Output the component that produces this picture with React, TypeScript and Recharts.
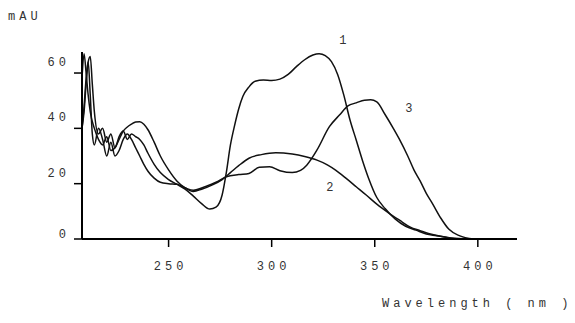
import React from 'react';
import { LineChart, Line, XAxis, YAxis, ReferenceDot } from 'recharts';

// Curve 1 (peak ~322 nm)
const wl1 = [208, 209, 210, 211, 212, 213, 214, 216, 218, 220, 222, 224, 226, 228, 230, 232, 234, 236, 238, 240, 243, 246, 250, 254, 258, 262, 266, 270, 273, 276, 278, 280, 282, 284, 286, 289, 292, 296, 300, 304, 308, 312, 316, 320, 323, 326, 329, 332, 335, 338, 341, 344, 347, 351, 355, 360, 365, 370, 375, 380, 386, 392, 400];
const abs1 = [40, 46, 56, 64, 66, 56, 46, 38, 40, 35, 38, 33, 37, 39, 36, 38, 37, 36, 34, 31, 27, 24, 21.5, 19.8, 18, 15.5, 12.8, 10.8, 11.5, 16, 24, 34, 41, 47, 51.5, 55, 57, 57.5, 57.3, 57.8, 59.5, 62.3, 64.8, 66.5, 67, 66.3, 64.1, 59.5, 52, 43, 35.8, 28.5, 22, 15, 11, 7.2, 4.6, 3.2, 1.8, 1.2, 0.4, 0.1, 0];

// Curve 2 (broad hump ~305 nm)
const wl2 = [208, 209, 210, 211, 212, 214, 216, 218, 220, 222, 224, 226, 228, 230, 232, 234, 236, 238, 240, 243, 246, 250, 254, 258, 262, 266, 271, 276, 280, 284, 289, 295, 302, 310, 316, 322, 327, 331, 336, 341, 346, 351, 357, 362, 367, 372, 377, 382, 387, 393, 400];
const abs2 = [58, 67, 60, 52, 46, 40, 36, 34, 37, 32, 33, 36, 39, 40.5, 41.5, 42.3, 42.4, 41.5, 39.5, 35, 30, 25, 21, 18.5, 17.2, 18, 19.5, 21.5, 24, 26.5, 29.2, 30.5, 31.2, 30.7, 29.8, 28.5, 26.8, 24.9, 22, 18.9, 15.8, 12.6, 9.3, 6.8, 4.4, 3, 1.8, 1, 0.4, 0.1, 0];

// Curve 3 (peak ~348 nm)
const wl3 = [208, 209, 210, 211, 212, 213, 214, 216, 218, 220, 222, 224, 226, 228, 230, 232, 234, 236, 238, 240, 243, 246, 250, 254, 258, 262, 268, 273, 278, 284, 289, 294, 299, 304, 310, 314, 317, 322, 328, 333, 337, 341, 345, 348, 351, 355, 359, 362, 366, 369, 372, 375, 378, 382, 386, 391, 398];
const abs3 = [40, 48, 58, 64, 52, 38, 34, 40, 36, 30, 35, 30, 32, 36, 38, 36, 33, 30, 27, 24.5, 22, 20.5, 20, 19.8, 18.5, 17.6, 19, 20.5, 22.5, 23.3, 23.7, 25.9, 26.1, 24.7, 24, 24.8, 26.7, 32.2, 40.6, 44.9, 48.1, 49.2, 50.2, 50.3, 49.6, 45, 40, 36, 30, 25, 21, 16.5, 12.8, 7.6, 3.5, 1.2, 0];

const xTicks = [250, 300, 350, 400];
const yTicks = [0, 20, 40, 60];
const curveNames = ['1', '2', '3'];
const curveLabelWl = [334.5, 328.2, 366.5];
const curveLabelAbs = [71.9, 18.8, 47.3];

const yTitle = 'mAU';
const xTitle = 'Wavelength ( nm )';

const FONT = '"Liberation Mono", "DejaVu Sans Mono", monospace';
const TEXT = '#333';
const LS = 4;
const FS = 12;

const rows = (w: number[], a: number[]) => w.map((x, i) => ({ wl: x, v: a[i] }));
const data1 = rows(wl1, abs1);
const data2 = rows(wl2, abs2);
const data3 = rows(wl3, abs3);

const XTick = (props: any) => {
  const { x, y, payload } = props;
  return (
    <text x={x + LS / 2} y={y + 23} textAnchor="middle" fontFamily={FONT} fontSize={FS} letterSpacing={LS} fill={TEXT}>
      {payload.value}
    </text>
  );
};

const YTick = (props: any) => {
  const { x, y, payload } = props;
  const dy = payload.value === 0 ? -1 : -7;
  return (
    <text x={x - 8 + LS} y={y + dy} textAnchor="end" fontFamily={FONT} fontSize={FS} letterSpacing={LS} fill={TEXT}>
      {payload.value}
    </text>
  );
};

const makeLabelShape = (name: string) => (props: any) => (
  <text x={props.cx + LS / 2} y={props.cy + 4} textAnchor="middle" fontFamily={FONT} fontSize={FS} letterSpacing={LS} fill={TEXT}>
    {name}
  </text>
);

export default function App() {
  return (
    <div style={{ position: 'absolute', left: 0, top: 0, width: 575, height: 323, background: '#fff' }}>
      <LineChart width={575} height={323} margin={{ top: 52, right: 58, bottom: 54, left: 42 }}>
        <XAxis
          type="number"
          dataKey="wl"
          domain={[208, 419]}
          allowDataOverflow
          ticks={xTicks}
          tick={<XTick />}
          tickSize={8}
          tickMargin={0}
          height={30}
          axisLine={{ stroke: '#000', strokeWidth: 2 }}
          tickLine={{ stroke: '#000', strokeWidth: 1.5 }}
        />
        <YAxis
          type="number"
          domain={[0, 67.6]}
          allowDataOverflow
          ticks={yTicks}
          tick={<YTick />}
          tickSize={8}
          tickMargin={0}
          width={40}
          axisLine={{ stroke: '#000', strokeWidth: 2 }}
          tickLine={{ stroke: '#000', strokeWidth: 1.5 }}
        />
        <Line data={data1} dataKey="v" type="monotone" stroke="#111" strokeWidth={1.5} dot={false} isAnimationActive={false} />
        <Line data={data2} dataKey="v" type="monotone" stroke="#111" strokeWidth={1.5} dot={false} isAnimationActive={false} />
        <Line data={data3} dataKey="v" type="monotone" stroke="#111" strokeWidth={1.5} dot={false} isAnimationActive={false} />
        {curveNames.map((n, i) => (
          <ReferenceDot
            key={n}
            x={curveLabelWl[i]}
            y={curveLabelAbs[i]}
            r={0}
            ifOverflow="visible"
            shape={makeLabelShape(n)}
          />
        ))}
      </LineChart>
      <svg width={575} height={323} style={{ position: 'absolute', left: 0, top: 0, pointerEvents: 'none' }}>
        <text x={8} y={20} fontFamily={FONT} fontSize={FS} letterSpacing={LS} fill={TEXT}>{yTitle}</text>
        <text x={382} y={307} fontFamily={FONT} fontSize={FS} letterSpacing={LS} fill={TEXT}>{xTitle}</text>
      </svg>
    </div>
  );
}
